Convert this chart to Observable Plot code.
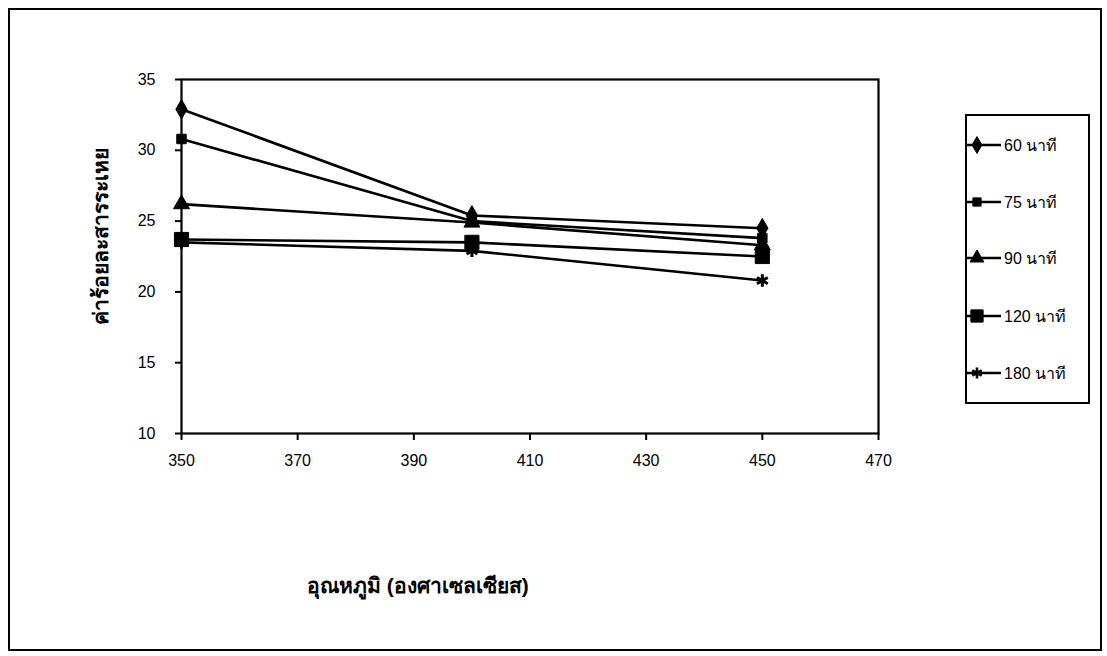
<!DOCTYPE html>
<html>
<head>
<meta charset="utf-8">
<script src="https://cdn.jsdelivr.net/npm/d3@7"></script>
<script src="https://cdn.jsdelivr.net/npm/@observablehq/plot@0.6"></script>
<style>
  html, body { margin: 0; padding: 0; background: #fff; }
  #wrap { position: relative; width: 1107px; height: 656px; overflow: hidden; font-family: "Liberation Sans", Arial, "Noto Sans", sans-serif; }
  #border { position: absolute; left: 8px; top: 8px; width: 1094px; height: 643px; border: 2px solid #000; box-sizing: border-box; pointer-events: none; }
  #xtitle { position: absolute; left: 307px; top: 569px; font-size: 21px; font-weight: bold; color: #000; white-space: nowrap; }
  #ytitle { position: absolute; left: 100px; top: 236px; font-size: 21px; font-weight: bold; color: #000; white-space: nowrap; transform: translate(-50%, -50%) rotate(-90deg); }
  #legend { position: absolute; left: 965px; top: 114px; width: 125px; height: 290px; border: 2px solid #000; box-sizing: border-box; background: #fff; }
  .item { position: absolute; left: 0; height: 22px; display: flex; align-items: center; font-size: 16px; color: #000; white-space: nowrap; }
  .item svg { display: block; }
</style>
</head>
<body>
<div id="wrap">
  <div id="chart"></div>
  <div id="xtitle">อุณหภูมิ (องศาเซลเซียส)</div>
  <div id="ytitle">ค่าร้อยละสารระเหย</div>
  <div id="legend"></div>
  <div id="border"></div>
</div>
<script>
const temps = [350, 400, 450];
const seriesNames = ["60 นาที", "75 นาที", "90 นาที", "120 นาที", "180 นาที"];
const v60  = [32.9, 25.4, 24.5];
const v75  = [30.8, 25.0, 23.8];
const v90  = [26.2, 24.9, 23.3];
const v120 = [23.7, 23.5, 22.5];
const v180 = [23.5, 22.9, 20.8];
const xTicks = [350, 370, 390, 410, 430, 450, 470];
const yTicks = [10, 15, 20, 25, 30, 35];
const symbols = ["diamond", "square", "triangle", "square", "asterisk"];
const symbolSizes = [110, 90, 110, 200, 110];

const allValues = [v60, v75, v90, v120, v180];
const data = [];
allValues.forEach((vals, i) => {
  vals.forEach((v, j) => data.push({series: seriesNames[i], idx: i, temp: temps[j], value: v}));
});

const plot = Plot.plot({
  width: 1107,
  height: 656,
  marginLeft: 181,
  marginRight: 229,
  marginTop: 79,
  marginBottom: 223,
  style: {fontFamily: '"Liberation Sans", Arial, sans-serif', fontSize: "16px", color: "#000", background: "transparent"},
  x: {domain: [350, 470], label: null},
  y: {domain: [10, 35], label: null},
  marks: [
    Plot.frame({stroke: "#000", strokeWidth: 2.2}),
    Plot.axisX({ticks: xTicks, tickSize: 7, tickPadding: 14, label: null, strokeWidth: 2}),
    Plot.axisY({ticks: yTicks, tickSize: 6, tickPadding: 20, label: null, strokeWidth: 2}),
    Plot.line(data, {x: "temp", y: "value", z: "series", stroke: "#000", strokeWidth: 2.6}),
    ...allValues.map((vals, i) => Plot.dot(data.filter(d => d.idx === i), {
      x: "temp", y: "value", symbol: () => symbols[i], r: Math.sqrt(symbolSizes[i] / Math.PI),
      fill: symbols[i] === "asterisk" ? "none" : "#000",
      stroke: "#000", strokeWidth: symbols[i] === "asterisk" ? 3 : 1
    }))
  ]
});
document.getElementById("chart").appendChild(plot);

// legend
const legend = document.getElementById("legend");
const itemY = [145, 202, 258, 316, 373];
seriesNames.forEach((name, i) => {
  const div = document.createElement("div");
  div.className = "item";
  div.style.top = (itemY[i] - 114 - 13) + "px";
  const sym = d3.symbol(d3[{diamond: "symbolDiamond", square: "symbolSquare", triangle: "symbolTriangle", asterisk: "symbolAsterisk"}[symbols[i]]], symbolSizes[i] * 0.75)();
  const isAst = symbols[i] === "asterisk";
  div.innerHTML = `<svg width="36" height="22"><line x1="0" x2="34" y1="11" y2="11" stroke="#000" stroke-width="2.4"/>` +
    `<path transform="translate(10,11)" d="${sym}" fill="${isAst ? "none" : "#000"}" stroke="#000" stroke-width="${isAst ? 2.6 : 1}"/></svg>` +
    `<span style="margin-left:1px">${name}</span>`;
  legend.appendChild(div);
});
</script>
</body>
</html>
